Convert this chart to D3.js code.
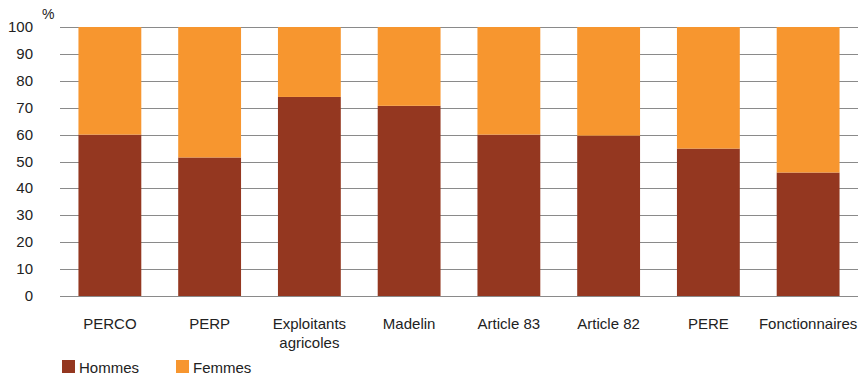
<!DOCTYPE html>
<html lang="fr">
  <head>
    <meta charset="UTF-8" />
    <title>Hommes / Femmes</title>
    <style>
      * { margin: 0; padding: 0; }
      body { background: #fff; }
      text { font-family: "Liberation Sans", Arial, sans-serif; fill: #222; }
    </style>
  </head>
  <body>
    <script src="https://cdn.jsdelivr.net/npm/d3@7"></script>
    <script>
      const categories = ['PERCO', 'PERP', 'Exploitants agricoles', 'Madelin', 'Article 83', 'Article 82', 'PERE', 'Fonctionnaires']
      const hommes = [60, 51.5, 74, 70.7, 60, 59.6, 54.8, 45.9]
      const femmes = hommes.map(h => 100 - h)
      const yTicks = [0, 10, 20, 30, 40, 50, 60, 70, 80, 90, 100]
      const seriesNames = ['Hommes', 'Femmes']
      const colors = ['#943720', '#f7962f']

      const W = 860, H = 376
      const margin = { left: 60, right: 2, top: 27, bottom: 80 }

      const svg = d3.select('body').append('svg').attr('width', W).attr('height', H)

      const x = d3.scaleBand().domain(categories).range([margin.left, W - margin.right]).paddingInner(0.37).paddingOuter(0.185)
      const y = d3.scaleLinear().domain([0, 100]).range([296, margin.top])

      // grid lines
      svg.append('g')
        .selectAll('line')
        .data(yTicks)
        .join('line')
        .attr('x1', margin.left)
        .attr('x2', W - margin.right)
        .attr('y1', d => Math.round(y(d)) + 0.5)
        .attr('y2', d => Math.round(y(d)) + 0.5)
        .attr('stroke', '#8a8a8a')
        .attr('stroke-width', 1.2)

      // y labels
      svg.append('g')
        .selectAll('text')
        .data(yTicks)
        .join('text')
        .attr('x', 33)
        .attr('y', d => y(d) + 5)
        .attr('text-anchor', 'end')
        .attr('font-size', 15)
        .text(d => d)

      svg.append('text').attr('x', 42).attr('y', 19).attr('font-size', 14).text('%')

      // stacked bars
      const rows = categories.map((c, i) => ({ cat: c, Hommes: hommes[i], Femmes: femmes[i] }))
      const stacked = d3.stack().keys(seriesNames)(rows)

      svg.append('g')
        .selectAll('g')
        .data(stacked)
        .join('g')
        .attr('fill', (d, i) => colors[i])
        .selectAll('rect')
        .data(d => d)
        .join('rect')
        .attr('x', d => x(d.data.cat))
        .attr('width', x.bandwidth())
        .attr('y', d => y(d[1]))
        .attr('height', d => y(d[0]) - y(d[1]))

      // category labels
      const labels = svg.append('g')
        .selectAll('text')
        .data(categories)
        .join('text')
        .attr('x', d => x(d) + x.bandwidth() / 2)
        .attr('y', 329)
        .attr('text-anchor', 'middle')
        .attr('font-size', 15)

      labels.each(function (d) {
        const words = d === 'Exploitants agricoles' ? ['Exploitants', 'agricoles'] : [d]
        d3.select(this).selectAll('tspan')
          .data(words)
          .join('tspan')
          .attr('x', x(d) + x.bandwidth() / 2)
          .attr('dy', (w, i) => i === 0 ? 0 : 19)
          .text(w => w)
      })

      // legend
      const legendX = [62, 176]
      const legend = svg.append('g')
        .selectAll('g')
        .data(seriesNames)
        .join('g')
        .attr('transform', (d, i) => `translate(${legendX[i]}, 360)`)
      legend.append('rect').attr('width', 13).attr('height', 13).attr('fill', (d, i) => colors[i])
      legend.append('text').attr('x', 17).attr('y', 13).attr('font-size', 15).text(d => d)
    </script>
  </body>
</html>
